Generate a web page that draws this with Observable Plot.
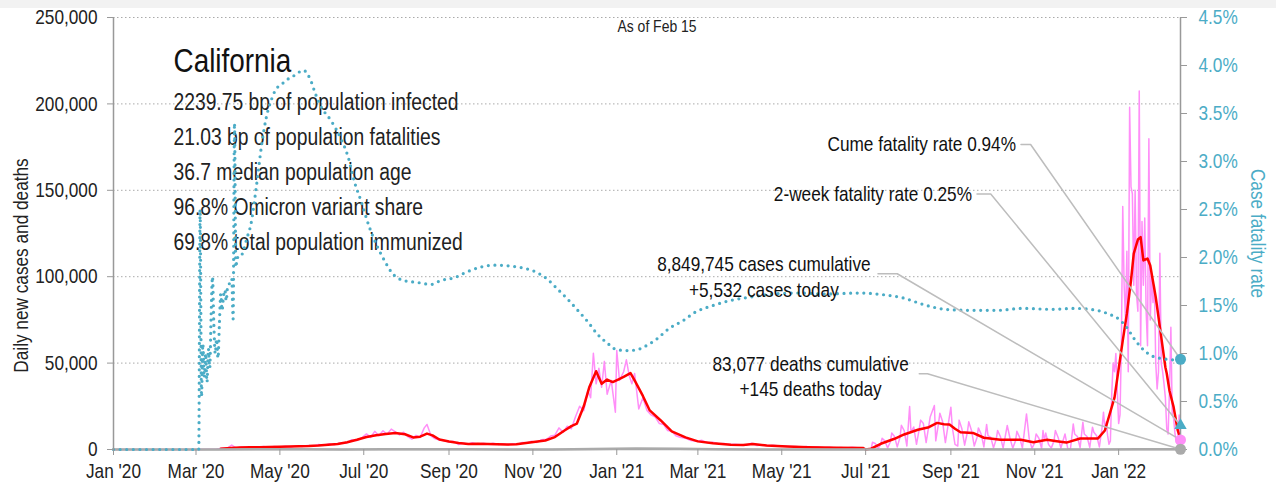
<!DOCTYPE html>
<html><head><meta charset="utf-8">
<script src="https://cdn.jsdelivr.net/npm/d3@7"></script>
<script src="https://cdn.jsdelivr.net/npm/@observablehq/plot@0.6"></script>
<style>
html,body{margin:0;padding:0;}
body{background:linear-gradient(#f2f2f2 0, #f2f2f2 8px, #fff 8px);}
#chart svg{display:block;}
</style></head><body><div id="chart"></div>
<script>
const FONT = '"Liberation Sans",Arial,sans-serif';
const NARROW = 0.82; // emulate a narrow (condensed) face
const TEAL = "#4bacc6";

const xDomain = ["2020-01-01", "2022-02-15"];
const yTicks = [0, 50000, 100000, 150000, 200000, 250000];
const rateTicks = [0, 0.5, 1, 1.5, 2, 2.5, 3, 3.5, 4, 4.5];
const rateMax = 4.5;
const monthTicks = ["2020-01-01","2020-03-01","2020-05-01","2020-07-01","2020-09-01","2020-11-01",
  "2021-01-01","2021-03-01","2021-05-01","2021-07-01","2021-09-01","2021-11-01","2022-01-01"];

const titleText = "California";
const statLines = [
  "2239.75 bp of population infected",
  "21.03 bp of population fatalities",
  "36.7 median population age",
  "96.8% Omicron variant share",
  "69.8% total population immunized"
];
const asOfText = "As of Feb 15";

// Daily new cases (raw)
const dailyCases = [
["2020-01-01",0],["2020-03-01",0],["2020-03-10",100],["2020-03-16",250],["2020-03-20",700],["2020-03-24",900],["2020-03-27",2600],["2020-03-30",900],
["2020-04-03",1500],["2020-04-07",1100],["2020-04-11",1500],["2020-04-15",1200],["2020-04-19",1700],["2020-04-23",1300],["2020-04-27",1800],
["2020-05-01",1400],["2020-05-05",1900],["2020-05-09",1500],["2020-05-13",2100],["2020-05-17",1700],["2020-05-21",2300],["2020-05-25",2000],["2020-05-29",2900],
["2020-06-02",2400],["2020-06-06",3300],["2020-06-10",2800],["2020-06-14",3900],["2020-06-18",3600],["2020-06-22",5600],["2020-06-26",5200],["2020-06-30",7000],
["2020-07-03",9000],["2020-07-06",7000],["2020-07-09",10500],["2020-07-12",8000],["2020-07-15",10800],["2020-07-18",8800],["2020-07-21",11800],["2020-07-24",10200],["2020-07-27",8400],["2020-07-30",10000],
["2020-08-02",7500],["2020-08-05",6000],["2020-08-08",8200],["2020-08-11",7000],["2020-08-14",12500],["2020-08-16",14500],["2020-08-19",7800],["2020-08-22",6200],["2020-08-25",5500],["2020-08-28",5200],
["2020-09-01",4300],["2020-09-04",4800],["2020-09-08",2900],["2020-09-11",3800],["2020-09-15",3100],["2020-09-18",3900],["2020-09-22",3000],["2020-09-26",3600],["2020-09-30",3100],
["2020-10-03",3700],["2020-10-07",2900],["2020-10-10",3300],["2020-10-14",2700],["2020-10-17",3400],["2020-10-21",3100],["2020-10-24",4000],["2020-10-28",3900],["2020-10-31",4800],
["2020-11-04",4100],["2020-11-07",5600],["2020-11-11",5900],["2020-11-14",7800],["2020-11-17",8300],["2020-11-20",12500],["2020-11-23",10000],["2020-11-26",13500],["2020-11-29",12000],
["2020-12-02",19000],["2020-12-05",25000],["2020-12-08",22500],["2020-12-11",34000],["2020-12-13",30000],["2020-12-15",55700],["2020-12-17",38000],["2020-12-19",47000],["2020-12-21",36000],["2020-12-23",51000],["2020-12-25",32000],["2020-12-28",40000],["2020-12-31",21600],
["2021-01-01",57300],["2021-01-03",40000],["2021-01-06",45000],["2021-01-08",51900],["2021-01-10",43000],["2021-01-12",38000],["2021-01-14",44000],["2021-01-17",23500],["2021-01-20",30000],["2021-01-23",22600],["2021-01-26",20000],["2021-01-29",18700],
["2021-02-01",15000],["2021-02-04",14500],["2021-02-07",11000],["2021-02-10",10500],["2021-02-13",8000],["2021-02-16",7100],["2021-02-20",6500],["2021-02-24",5200],["2021-02-28",4800],
["2021-03-04",5300],["2021-03-08",3900],["2021-03-12",4200],["2021-03-16",3300],["2021-03-20",3500],["2021-03-24",2900],["2021-03-28",3100],
["2021-04-01",2700],["2021-04-05",2500],["2021-04-09",3600],["2021-04-13",2300],["2021-04-17",2700],["2021-04-21",2200],["2021-04-25",2500],["2021-04-29",2100],
["2021-05-03",2000],["2021-05-07",1700],["2021-05-11",1800],["2021-05-15",1500],["2021-05-19",1700],["2021-05-23",1200],["2021-05-27",1400],
["2021-06-01",1000],["2021-06-05",1300],["2021-06-09",900],["2021-06-13",1200],["2021-06-17",900],["2021-06-21",1300],["2021-06-25",1000],["2021-06-29",900],["2021-07-01",0],
["2021-07-05",300],["2021-07-06",4200],["2021-07-08",3500],["2021-07-10",600],["2021-07-12",3000],["2021-07-13",6500],["2021-07-15",5000],["2021-07-17",900],["2021-07-19",4500],["2021-07-20",9500],["2021-07-22",7500],["2021-07-24",1500],["2021-07-26",7000],["2021-07-27",14000],["2021-07-29",11000],["2021-07-31",2000],
["2021-08-02",24900],["2021-08-03",10000],["2021-08-05",13000],["2021-08-07",3000],["2021-08-09",12000],["2021-08-10",17000],["2021-08-12",15000],["2021-08-14",4000],["2021-08-16",14000],["2021-08-17",19000],["2021-08-20",25500],["2021-08-21",5000],["2021-08-23",15000],["2021-08-24",21000],["2021-08-26",16000],["2021-08-28",4000],
["2021-09-01",24500],["2021-09-02",13000],["2021-09-04",3000],["2021-09-06",2000],["2021-09-07",17000],["2021-09-09",12000],["2021-09-11",2500],["2021-09-13",10000],["2021-09-14",16000],["2021-09-16",11000],["2021-09-18",2000],["2021-09-20",7000],["2021-09-21",12500],["2021-09-23",9000],["2021-09-25",1500],["2021-09-27",14500],["2021-09-28",8000],["2021-09-30",7000],
["2021-10-02",1000],["2021-10-04",6000],["2021-10-05",11000],["2021-10-07",7500],["2021-10-09",800],["2021-10-12",13900],["2021-10-14",6500],["2021-10-16",800],["2021-10-18",5000],["2021-10-19",10500],["2021-10-21",7000],["2021-10-23",800],["2021-10-26",20600],["2021-10-28",6000],["2021-10-30",600],
["2021-11-01",4000],["2021-11-02",9000],["2021-11-04",6500],["2021-11-06",600],["2021-11-07",11000],["2021-11-08",5500],["2021-11-09",9500],["2021-11-11",3000],["2021-11-13",800],["2021-11-15",5000],["2021-11-16",11000],["2021-11-18",7000],["2021-11-20",900],["2021-11-23",9000],["2021-11-25",500],["2021-11-27",600],["2021-11-29",14800],["2021-11-30",9000],
["2021-12-02",7500],["2021-12-04",1000],["2021-12-06",15800],["2021-12-07",9000],["2021-12-09",7500],["2021-12-11",1200],["2021-12-13",12900],["2021-12-14",10000],["2021-12-16",8000],["2021-12-18",1500],["2021-12-20",13000],["2021-12-21",21600],["2021-12-22",12000],["2021-12-23",16000],["2021-12-24",8000],["2021-12-25",3000],["2021-12-26",5000],["2021-12-27",32400],["2021-12-28",50000],["2021-12-29",45000],["2021-12-30",55600],["2021-12-31",35000],
["2022-01-01",15000],["2022-01-02",20000],["2022-01-03",60000],["2022-01-04",140600],["2022-01-05",95000],["2022-01-06",75000],["2022-01-07",114800],["2022-01-08",45000],["2022-01-09",198100],["2022-01-10",152000],["2022-01-11",148000],["2022-01-12",95000],["2022-01-13",150000],["2022-01-14",90000],["2022-01-15",80000],["2022-01-16",207400],["2022-01-17",60000],["2022-01-18",132000],["2022-01-19",95000],["2022-01-20",134000],["2022-01-21",80000],["2022-01-22",60000],["2022-01-23",179800],["2022-01-24",75000],["2022-01-25",100000],["2022-01-26",85000],["2022-01-27",95000],["2022-01-28",50000],["2022-01-29",35000],["2022-01-30",45000],["2022-01-31",113600],
["2022-02-01",50000],["2022-02-02",45000],["2022-02-03",38000],["2022-02-04",30000],["2022-02-05",12000],["2022-02-06",9000],["2022-02-07",35000],["2022-02-08",70800],["2022-02-09",20000],["2022-02-10",18000],["2022-02-11",9000],["2022-02-12",4000],["2022-02-13",3000],["2022-02-14",20000],["2022-02-15",5532]
];

// 7-day average of new cases
const avgCases = [
["2020-03-19",400],["2020-03-26",900],["2020-04-02",1200],["2020-04-09",1250],["2020-04-16",1300],["2020-04-23",1400],["2020-05-01",1600],["2020-05-08",1700],["2020-05-15",1850],["2020-05-22",2000],["2020-05-29",2300],
["2020-06-05",2800],["2020-06-12",3200],["2020-06-19",4200],["2020-06-26",5600],["2020-07-03",7200],["2020-07-10",8300],["2020-07-17",9000],["2020-07-24",9600],["2020-07-31",8800],
["2020-08-06",7000],["2020-08-11",7400],["2020-08-16",9200],["2020-08-20",8200],["2020-08-25",5800],["2020-09-01",4600],["2020-09-08",3800],["2020-09-15",3200],["2020-09-22",3300],["2020-09-29",3200],
["2020-10-06",3100],["2020-10-13",2900],["2020-10-20",3000],["2020-10-27",3800],["2020-11-03",4500],["2020-11-10",5200],["2020-11-17",7200],["2020-11-24",11000],["2020-11-29",13500],
["2020-12-03",15000],["2020-12-08",25000],["2020-12-12",36000],["2020-12-17",45300],["2020-12-21",38000],["2020-12-25",40500],["2020-12-29",39000],
["2021-01-02",40500],["2021-01-06",42000],["2021-01-11",44200],["2021-01-14",40000],["2021-01-20",31000],["2021-01-25",22600],["2021-02-02",16800],["2021-02-10",10500],["2021-02-20",7000],
["2021-03-01",4700],["2021-03-12",3600],["2021-03-25",2800],["2021-04-03",2600],["2021-04-10",3200],["2021-04-20",2300],["2021-05-05",1700],["2021-05-20",1300],["2021-06-10",1000],["2021-06-29",900],["2021-07-01",0],
["2021-07-05",500],["2021-07-12",3300],["2021-07-22",6200],["2021-07-29",8700],["2021-08-08",11400],["2021-08-16",12900],["2021-08-22",15400],["2021-08-27",14600],["2021-08-31",14500],
["2021-09-04",12000],["2021-09-08",10000],["2021-09-17",9600],["2021-09-25",6800],["2021-10-07",5600],["2021-10-22",5600],["2021-10-31",4200],["2021-11-10",5600],["2021-11-17",4800],["2021-11-24",4000],
["2021-12-04",6400],["2021-12-17",6400],["2021-12-22",11000],["2021-12-29",30000],
["2022-01-04",63000],["2022-01-07",78600],["2022-01-10",97800],["2022-01-12",113400],["2022-01-15",121500],["2022-01-17",122900],["2022-01-19",109400],["2022-01-22",110500],["2022-01-24",106500],["2022-01-28",88100],
["2022-02-01",65000],["2022-02-04",47600],["2022-02-05",44000],["2022-02-07",34000],["2022-02-10",24500],["2022-02-13",11000],["2022-02-15",6000]
];

// Daily deaths (7-day average)
const deathsAvg = [
["2020-01-01",0],["2020-03-15",5],["2020-04-15",80],["2020-05-15",75],["2020-06-15",60],["2020-07-15",110],["2020-08-15",140],["2020-09-15",90],["2020-10-15",55],["2020-11-15",50],["2020-12-15",250],
["2021-01-15",550],["2021-02-15",400],["2021-03-15",150],["2021-04-15",50],["2021-05-15",30],["2021-06-15",20],["2021-07-15",20],["2021-08-15",70],["2021-09-15",110],["2021-10-15",70],["2021-11-15",40],["2021-12-15",40],
["2022-01-15",120],["2022-02-15",145]
];

// Case fatality rate, %
const fatalityRate = [
["2020-01-01",0],["2020-03-03",0],["2020-03-04",2.5],["2020-03-05",0.55],["2020-03-06",1.1],["2020-03-07",0.75],["2020-03-08",1.0],["2020-03-09",0.7],["2020-03-10",1.05],["2020-03-11",0.85],
["2020-03-12",1.4],["2020-03-13",1.8],["2020-03-14",1.3],["2020-03-15",1.0],["2020-03-16",1.15],["2020-03-17",0.95],["2020-03-18",1.3],["2020-03-19",1.62],["2020-03-20",1.45],["2020-03-21",1.6],
["2020-03-22",1.66],["2020-03-23",1.55],["2020-03-24",1.7],["2020-03-25",1.72],["2020-03-26",1.75],["2020-03-27",1.78],["2020-03-28",1.36],["2020-03-29",3.4],["2020-03-30",1.9],["2020-03-31",2.0],
["2020-04-02",2.0],["2020-04-04",2.05],["2020-04-07",2.2],["2020-04-10",2.35],["2020-04-14",2.75],["2020-04-18",3.2],["2020-04-21",3.45],["2020-04-25",3.65],["2020-04-28",3.75],
["2020-05-02",3.8],["2020-05-06",3.85],["2020-05-12",3.9],["2020-05-18",3.95],["2020-05-23",3.86],["2020-05-27",3.7],["2020-05-31",3.57],["2020-06-07",3.43],["2020-06-14",3.25],["2020-06-20",3.03],["2020-06-24",2.8],["2020-06-29",2.59],
["2020-07-05",2.32],["2020-07-11",2.11],["2020-07-16",1.97],["2020-07-21",1.85],["2020-07-30",1.76],["2020-08-09",1.74],["2020-08-19",1.72],["2020-08-26",1.76],["2020-09-05",1.79],["2020-09-14",1.85],["2020-09-24",1.9],
["2020-10-04",1.92],["2020-10-16",1.91],["2020-10-25",1.89],["2020-11-03",1.85],["2020-11-11",1.78],["2020-11-19",1.67],["2020-11-26",1.57],["2020-12-03",1.46],["2020-12-11",1.33],["2020-12-18",1.2],["2020-12-25",1.11],
["2021-01-01",1.04],["2021-01-09",1.03],["2021-01-16",1.04],["2021-01-21",1.07],["2021-01-30",1.15],["2021-02-08",1.26],["2021-02-18",1.34],["2021-02-27",1.43],["2021-03-12",1.5],["2021-03-24",1.55],
["2021-04-09",1.59],["2021-04-25",1.62],["2021-05-13",1.63],["2021-06-01",1.62],["2021-06-26",1.63],["2021-07-15",1.61],["2021-07-28",1.58],["2021-08-12",1.51],["2021-08-28",1.46],["2021-09-13",1.45],
["2021-10-05",1.45],["2021-10-23",1.47],["2021-11-14",1.46],["2021-11-30",1.47],["2021-12-16",1.45],["2021-12-25",1.41],
["2022-01-01",1.36],["2022-01-07",1.27],["2022-01-12",1.16],["2022-01-19",1.04],["2022-01-26",0.97],["2022-02-05",0.94],["2022-02-15",0.93]
];

const latest = {date: "2022-02-15", casesToday: 5532, deathsToday: 145, cumeRate: 0.94, twoWeekRate: 0.25};
const cumeLabel = "Cume fatality rate 0.94%";
const twoWeekLabel = "2-week fatality rate 0.25%";
const caseLabels = ["8,849,745 cases cumulative", "+5,532 cases today"];
const deathLabels = ["83,077 deaths cumulative", "+145 deaths today"];

// helpers
const D = s => new Date(s);
const k = 250000 / rateMax; // rate % -> left axis units
const X = d => D(d[0]);
const Y = d => d[1];
const last = D(latest.date);

function leader(startDate, elbowDate, v, target) {
  return Plot.line([[D(startDate), v], [D(elbowDate), v], [last, target]],
    {x: d => d[0], y: d => d[1], stroke: "#bdbdbd", strokeWidth: 1.5});
}

const chart = Plot.plot({
  width: 1276,
  height: 491,
  marginLeft: 113,
  marginRight: 96,
  marginTop: 17,
  marginBottom: 42,
  style: {fontFamily: FONT, fontSize: "21px", background: "transparent", color: "#222", overflow: "visible"},
  x: {type: "utc", domain: xDomain.map(D)},
  y: {domain: [0, 250000]},
  marks: [
    Plot.gridY(yTicks, {stroke: "#aaa", strokeOpacity: 1, strokeDasharray: "1.5,2.5"}),
    Plot.text([titleText], {frameAnchor: "top-left", lineAnchor: "middle", textAnchor: "start", dx: 60, dy: 44, fontSize: 34, fill: "#111"}),
    ...statLines.map((s, i) => Plot.text([s], {frameAnchor: "top-left", lineAnchor: "middle", textAnchor: "start", dx: 60, dy: 85 + i * 35, fontSize: 23.5, fill: "#222"})),
    Plot.text([asOfText], {frameAnchor: "top", lineAnchor: "middle", dx: 10, dy: 9, fontSize: 17, fill: "#222"}),
    Plot.line(dailyCases, {x: X, y: Y, stroke: "#ff8ef8", strokeWidth: 1.5}),
    Plot.line(avgCases, {x: X, y: Y, stroke: "#ff0000", strokeWidth: 2.5}),
    Plot.ruleY([0], {stroke: "#a6a6a6", strokeWidth: 1.5}),
    Plot.line(deathsAvg, {x: X, y: Y, stroke: "#aaaaaa", strokeWidth: 2.5}),
    Plot.line(fatalityRate, {x: X, y: d => d[1] * k, stroke: TEAL, strokeWidth: 3.2, strokeDasharray: "0 6.6", strokeLinecap: "round", curve: "monotone-x"}),
    Plot.ruleX([D(xDomain[0])], {stroke: "#999", strokeWidth: 1.5}),
    Plot.ruleX([D(xDomain[1])], {stroke: "#999", strokeWidth: 1.5}),
    Plot.axisY(yTicks, {anchor: "left", tickSize: 6, tickPadding: 10, tickFormat: d3.format(","), stroke: "#999", fill: "#222", fontSize: 21, label: null}),
    Plot.axisY(rateTicks.map(p => p * k), {anchor: "right", tickSize: 6, tickPadding: 12, tickFormat: v => (v / k).toFixed(1) + "%", stroke: "#999", fill: TEAL, fontSize: 21, label: null}),
    Plot.axisX(monthTicks.map(D), {anchor: "bottom", tickSize: 6, tickPadding: 8, tickFormat: d3.utcFormat("%b '%y"), stroke: "#999", fill: "#222", fontSize: 21, label: null}),
    Plot.text(["Daily new cases and deaths"], {frameAnchor: "left", textAnchor: "middle", lineAnchor: "middle", dx: -92, dy: 32, rotate: -90, fontSize: 21, fill: "#222"}),
    Plot.text(["Case fatality rate"], {frameAnchor: "right", textAnchor: "middle", lineAnchor: "middle", dx: 77, dy: 0, rotate: 90, fontSize: 21, fill: TEAL}),
    // leader lines
    leader("2021-10-22", "2021-10-29", 176500, latest.cumeRate * k),
    leader("2021-09-20", "2021-09-30", 147900, latest.twoWeekRate * k),
    leader("2021-07-10", "2021-07-24", 101700, latest.casesToday),
    leader("2021-08-09", "2021-08-15", 43800, latest.deathsToday),
    // end markers
    Plot.dot([latest], {x: d => D(d.date), y: d => d.cumeRate * k, r: 5.5, fill: TEAL}),
    Plot.dot([latest], {x: d => D(d.date), y: d => d.twoWeekRate * k, r: 4.6, symbol: "triangle", fill: TEAL}),
    Plot.dot([latest], {x: d => D(d.date), y: d => d.casesToday, r: 5.5, fill: "#ff8ef8"}),
    Plot.dot([latest], {x: d => D(d.date), y: d => d.deathsToday, r: 5.5, fill: "#aaaaaa"}),
    // annotation texts
    Plot.text([cumeLabel], {x: D("2021-10-22"), y: 176500, dx: -5, textAnchor: "end", fontSize: 21, fill: "#111"}),
    Plot.text([twoWeekLabel], {x: D("2021-09-20"), y: 147900, dx: -5, textAnchor: "end", fontSize: 21, fill: "#111"}),
    Plot.text([caseLabels[0]], {x: D("2021-04-18"), y: 107400, fontSize: 21, fill: "#111"}),
    Plot.text([caseLabels[1]], {x: D("2021-04-18"), y: 92000, fontSize: 21, fill: "#111"}),
    Plot.text([deathLabels[0]], {x: D("2021-05-22"), y: 49600, fontSize: 21, fill: "#111"}),
    Plot.text([deathLabels[1]], {x: D("2021-05-22"), y: 35100, fontSize: 21, fill: "#111"})
  ]
});
document.getElementById("chart").appendChild(chart);
// condense every label horizontally (narrow typeface look), keeping it real text
chart.querySelectorAll("text").forEach(t => {
  const w = t.getComputedTextLength();
  if (w > 0) {
    t.setAttribute("textLength", (w * NARROW).toFixed(2));
    t.setAttribute("lengthAdjust", "spacingAndGlyphs");
  }
});
</script>
</body></html>
